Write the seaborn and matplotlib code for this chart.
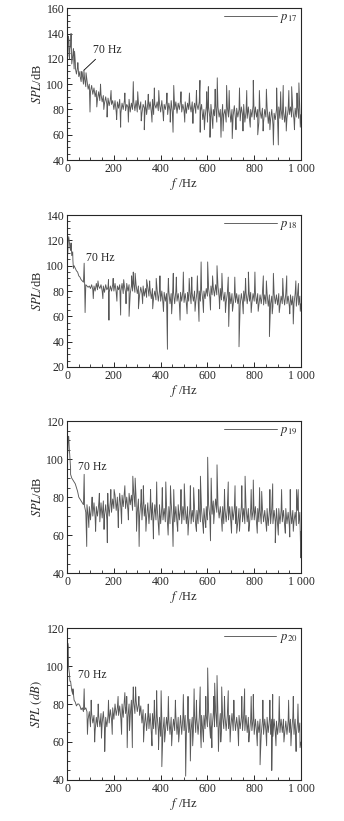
import numpy as np
import pandas as pd
import matplotlib
matplotlib.use("Agg")
import matplotlib.pyplot as plt
from matplotlib.ticker import MultipleLocator, FuncFormatter
import seaborn as sns

# ---------------- data ----------------
freq_base = list(range(0, 1001, 5))

p17_base = [125, 138, 120, 130, 116, 124, 112, 118, 108, 114, 106, 110, 102, 108, 100, 104, 98, 103, 96, 100,
            94, 99, 92, 97, 90, 95, 88, 94, 87, 92, 86, 91, 85, 90, 84, 89, 83, 88, 84, 87,
            80, 87, 78, 86, 81, 88, 77, 85, 80, 87, 79, 84, 82, 88, 78, 85, 80, 86, 79, 87,
            78, 85, 80, 86, 77, 84, 81, 87, 76, 85, 80, 86, 78, 88, 76, 84, 81, 86, 79, 85,
            78, 87, 77, 84, 80, 86, 76, 85, 79, 87, 78, 84, 80, 86, 77, 85, 80, 87, 78, 84,
            79, 86, 77, 85, 80, 84, 78, 86, 79, 85, 77, 84, 80, 86, 78, 84, 72, 80, 74, 82,
            70, 82, 74, 84, 72, 80, 75, 83, 70, 82, 74, 80, 72, 84, 76, 80, 70, 82, 74, 81,
            70, 80, 75, 83, 72, 81, 74, 80, 71, 82, 76, 84, 70, 78, 73, 82, 72, 80, 74, 83,
            72, 82, 74, 80, 70, 79, 73, 81, 70, 80, 74, 82, 69, 78, 72, 80, 68, 77, 72, 80,
            70, 82, 73, 80, 72, 79, 70, 82, 73, 80, 76, 82, 74, 80, 72, 81, 74, 82, 73, 80,
            76]
p17_spike_f = [3, 8, 12, 17, 22, 27, 32, 36, 46, 56, 63, 72, 81, 98, 171, 229, 283, 330, 373, 453,
               456, 568, 569, 604, 611, 642, 658, 682, 706, 768, 796, 815, 882, 896, 903, 924, 960, 991]
p17_spike_v = [122, 135, 128, 140, 119, 128, 126, 112, 117, 106, 110, 111, 109, 78, 74, 66, 102, 64, 97, 62,
               99, 103, 62, 98, 58, 105, 58, 99, 57, 95, 103, 60, 52, 97, 52, 99, 98, 101]
p17_extra_f = [127, 143, 157, 188, 212, 247, 262, 302, 317, 347, 363, 392, 412, 427, 441, 487, 503, 523, 538, 553,
               587, 597, 623, 633, 667, 693, 722, 737, 752, 783, 822, 838, 852, 867, 913, 937, 948, 972, 983, 997]
p17_extra_v = [82, 100, 80, 95, 72, 93, 70, 94, 71, 92, 70, 95, 71, 93, 70, 94, 70, 93, 69, 95,
               64, 94, 65, 96, 63, 95, 64, 97, 63, 66, 95, 63, 96, 64, 94, 63, 95, 64, 93, 66]

p18_base = [105, 120, 118, 112, 108, 104, 100, 98, 96, 95, 92, 91, 89, 88, 87, 86, 85, 84, 83, 84,
            82, 85, 81, 84, 80, 86, 81, 84, 82, 85, 80, 84, 79, 85, 81, 83, 79, 84, 80, 85,
            80, 86, 79, 84, 81, 85, 80, 86, 78, 84, 79, 86, 80, 85, 78, 84, 80, 86, 79, 85,
            78, 84, 77, 83, 78, 84, 76, 82, 75, 83, 76, 81, 74, 82, 75, 80, 73, 81, 72, 80,
            72, 80, 70, 79, 72, 78, 71, 80, 70, 78, 72, 79, 70, 80, 72, 78, 70, 79, 72, 80,
            71, 78, 70, 79, 72, 80, 70, 78, 72, 80, 71, 79, 74, 80, 72, 81, 73, 80, 74, 82,
            76, 82, 75, 84, 77, 83, 76, 85, 77, 84, 75, 82, 73, 80, 72, 79, 71, 78, 70, 79,
            70, 78, 69, 77, 71, 78, 70, 77, 69, 78, 71, 80, 72, 79, 70, 78, 72, 79, 70, 78,
            72, 79, 70, 78, 69, 77, 70, 78, 69, 77, 70, 78, 68, 77, 70, 76, 68, 78, 70, 77,
            69, 78, 68, 76, 70, 77, 69, 78, 70, 76, 68, 77, 69, 76, 70, 78, 68, 77, 69, 76,
            70]
p18_spike_f = [3, 7, 12, 17, 24, 27, 73, 77, 177, 179, 229, 265, 283, 291, 305, 340, 397, 429, 433, 454,
               483, 497, 533, 564, 573, 601, 641, 689, 691, 735, 775, 803, 839, 865, 882, 939, 967, 989]
p18_spike_v = [110, 123, 115, 118, 111, 98, 102, 63, 89, 57, 61, 60, 95, 94, 66, 89, 92, 34, 90, 94,
               57, 95, 91, 56, 103, 103, 100, 91, 52, 36, 95, 95, 92, 44, 94, 92, 54, 86]
p18_extra_f = [112, 132, 153, 197, 213, 242, 252, 276, 323, 353, 366, 381, 412, 447, 467, 513, 522, 547, 557, 583,
               613, 622, 652, 662, 677, 707, 717, 753, 763, 787, 817, 852, 877, 907, 922, 952, 978, 997]
p18_extra_v = [74, 88, 74, 90, 72, 89, 70, 92, 70, 88, 66, 90, 64, 62, 91, 62, 90, 64, 92, 63,
               65, 92, 66, 94, 63, 64, 91, 62, 90, 63, 64, 88, 62, 63, 90, 62, 88, 64]

p19_base = [100, 112, 104, 95, 90, 89, 88, 87, 85, 83, 80, 79, 78, 77, 76, 75, 72, 76, 70, 75,
            68, 76, 70, 77, 69, 75, 70, 76, 67, 77, 69, 78, 70, 76, 68, 77, 70, 78, 72, 79,
            74, 81, 73, 80, 72, 82, 74, 81, 75, 83, 74, 80, 73, 82, 76, 81, 73, 82, 75, 80,
            72, 79, 70, 77, 68, 78, 70, 76, 69, 77, 66, 75, 68, 77, 67, 76, 68, 75, 66, 76,
            66, 75, 68, 74, 67, 76, 65, 75, 66, 77, 68, 74, 67, 75, 66, 76, 68, 74, 66, 75,
            68, 74, 66, 75, 67, 74, 66, 73, 67, 74, 65, 73, 66, 74, 67, 73, 66, 74, 67, 75,
            68, 76, 70, 77, 71, 78, 72, 79, 72, 76, 69, 75, 68, 75, 66, 74, 67, 74, 68, 75,
            67, 75, 68, 74, 66, 75, 67, 74, 68, 75, 67, 74, 66, 75, 67, 74, 66, 74, 68, 73,
            68, 75, 66, 74, 67, 73, 66, 74, 67, 73, 66, 74, 65, 73, 66, 74, 66, 73, 67, 74,
            65, 74, 66, 73, 67, 73, 65, 74, 66, 72, 65, 74, 66, 73, 67, 72, 65, 73, 66, 72,
            62]
p19_spike_f = [3, 7, 11, 15, 73, 84, 172, 174, 201, 219, 281, 291, 308, 326, 369, 383, 422, 453, 456, 501,
               541, 570, 583, 601, 613, 616, 641, 689, 718, 725, 761, 796, 832, 879, 890, 952, 954, 981, 999]
p19_spike_v = [104, 112, 103, 92, 92, 54, 56, 82, 84, 64, 91, 90, 54, 86, 58, 88, 88, 54, 84, 87,
               85, 91, 61, 101, 57, 90, 97, 88, 86, 61, 91, 89, 83, 87, 56, 59, 84, 84, 48]
p19_extra_f = [93, 107, 122, 138, 158, 187, 233, 247, 262, 297, 317, 337, 357, 393, 407, 432, 442, 473, 487, 517,
               527, 553, 563, 593, 627, 663, 673, 703, 737, 747, 777, 787, 813, 823, 853, 867, 903, 917, 933, 967, 988]
p19_extra_v = [64, 80, 62, 82, 63, 84, 66, 86, 68, 62, 84, 62, 84, 60, 85, 60, 86, 62, 84, 60,
               86, 62, 84, 64, 66, 62, 84, 61, 62, 86, 62, 84, 61, 85, 62, 84, 60, 84, 61, 62, 84]

p20_base = [100, 110, 96, 92, 87, 85, 82, 81, 79, 80, 80, 79, 77, 78, 76, 77, 78, 76, 72, 76,
            68, 75, 70, 74, 66, 73, 68, 74, 68, 75, 70, 76, 67, 73, 68, 74, 70, 77, 72, 78,
            72, 80, 74, 78, 74, 79, 72, 80, 73, 82, 75, 80, 73, 80, 74, 82, 76, 81, 75, 82,
            76, 80, 74, 79, 70, 77, 68, 75, 66, 74, 67, 75, 65, 75, 67, 73, 64, 74, 66, 73,
            63, 72, 66, 73, 65, 73, 66, 72, 64, 73, 65, 72, 66, 74, 64, 73, 65, 74, 64, 73,
            66, 74, 65, 73, 65, 72, 66, 73, 66, 74, 65, 72, 64, 73, 66, 74, 66, 74, 67, 74,
            68, 76, 67, 75, 67, 75, 68, 76, 68, 74, 67, 75, 66, 73, 67, 74, 66, 74, 67, 74,
            68, 75, 66, 74, 66, 73, 67, 74, 67, 73, 66, 74, 66, 74, 65, 73, 65, 72, 66, 72,
            64, 72, 65, 71, 65, 72, 64, 71, 64, 72, 66, 73, 65, 72, 64, 72, 63, 72, 65, 71,
            64, 71, 65, 72, 65, 72, 64, 71, 64, 71, 65, 72, 66, 73, 64, 72, 64, 70, 65, 70,
            60]
p20_spike_f = [3, 6, 12, 25, 73, 161, 205, 255, 257, 279, 283, 293, 383, 391, 402, 405, 497, 507, 527, 543,
               569, 573, 601, 619, 631, 641, 647, 661, 689, 759, 796, 825, 875, 879, 967, 979, 996]
p20_spike_v = [112, 100, 92, 88, 88, 55, 80, 84, 57, 57, 89, 89, 87, 56, 87, 47, 85, 42, 50, 88,
               89, 57, 99, 57, 91, 95, 55, 89, 87, 88, 85, 48, 45, 85, 84, 55, 57]
p20_extra_f = [87, 103, 118, 133, 147, 177, 193, 218, 233, 247, 267, 307, 327, 347, 363, 373, 417, 433, 447, 463,
               477, 517, 537, 553, 583, 593, 613, 627, 657, 673, 697, 713, 733, 747, 777, 787, 813, 837, 853, 867,
               893, 907, 927, 947, 957, 987]
p20_extra_v = [64, 82, 60, 80, 62, 82, 64, 84, 64, 86, 66, 84, 60, 80, 58, 82, 60, 84, 58, 82,
               60, 84, 58, 82, 60, 84, 62, 84, 60, 84, 60, 82, 58, 84, 60, 84, 58, 82, 58, 82,
               58, 84, 60, 82, 58, 80]

label_tex = [r"$p_{17}$", r"$p_{18}$", r"$p_{19}$", r"$p_{20}$"]
ylims = [(40, 160), (20, 140), (40, 120), (40, 120)]
ylabels = [r"$SPL$/dB", r"$SPL$/dB", r"$SPL$/dB", r"$SPL$ $(dB)$"]
ann_text_pos = [(112, 127), (81, 106.5), (48, 95.6), (48, 95.5)]
series = [(p17_base, p17_spike_f + p17_extra_f, p17_spike_v + p17_extra_v),
          (p18_base, p18_spike_f + p18_extra_f, p18_spike_v + p18_extra_v),
          (p19_base, p19_spike_f + p19_extra_f, p19_spike_v + p19_extra_v),
          (p20_base, p20_spike_f + p20_extra_f, p20_spike_v + p20_extra_v)]

# ---------------- style ----------------
sns.set_style("ticks")
plt.rcParams["font.family"] = ["Liberation Serif", "DejaVu Serif"]
plt.rcParams["mathtext.fontset"] = "stix"
plt.rcParams["axes.linewidth"] = 0.8

fig = plt.figure(figsize=(3.44, 8.21), dpi=100)
lefts = 0.195
width = 0.680
bottoms = [0.805, 0.553, 0.302, 0.050]
height = 0.185

fmt = FuncFormatter(lambda v, p: ("1 000" if abs(v - 1000) < 1e-6 else f"{int(v)}"))

for i in range(4):
    ax = fig.add_axes([lefts, bottoms[i], width, height])
    base, sf, sv = series[i]
    df = pd.DataFrame({"f": freq_base + sf, "SPL": base + sv})
    df = df.sort_values("f", kind="stable").reset_index(drop=True)
    df["probe"] = label_tex[i]
    sns.lineplot(data=df, x="f", y="SPL", hue="probe", palette=["#585858"], sort=False,
                 estimator=None, linewidth=0.65, ax=ax)
    ax.set_xlim(0, 1000)
    ax.set_ylim(*ylims[i])
    ax.xaxis.set_major_locator(MultipleLocator(200))
    ax.xaxis.set_minor_locator(MultipleLocator(50))
    ax.yaxis.set_major_locator(MultipleLocator(20))
    ax.yaxis.set_minor_locator(MultipleLocator(5))
    ax.xaxis.set_major_formatter(fmt)
    ax.tick_params(axis="both", which="both", direction="in", top=False, right=False,
                   labelsize=8.5, pad=2)
    ax.tick_params(which="major", length=3.5, width=0.7)
    ax.tick_params(which="minor", length=2, width=0.6)
    ax.set_xlabel(r"$f$ /Hz", fontsize=9, labelpad=1)
    ax.set_ylabel(ylabels[i], fontsize=9, labelpad=2)
    for s in ax.spines.values():
        s.set_visible(True)
        s.set_linewidth(0.8)
    ax.legend(loc="upper right", frameon=False, fontsize=9, handlelength=4.2,
              handletextpad=0.3, borderaxespad=0.15, borderpad=0.1)
    if i == 0:
        ax.annotate("70 Hz", xy=(72, 111), xytext=ann_text_pos[i], fontsize=8.5,
                    va="center", ha="left",
                    arrowprops=dict(arrowstyle="-", color="black", lw=0.6,
                                    shrinkA=0, shrinkB=0, relpos=(0.2, 0.0)))
    else:
        ax.text(ann_text_pos[i][0], ann_text_pos[i][1], "70 Hz", fontsize=8.5,
                va="center", ha="left")

fig.savefig("out.png", dpi=100)
